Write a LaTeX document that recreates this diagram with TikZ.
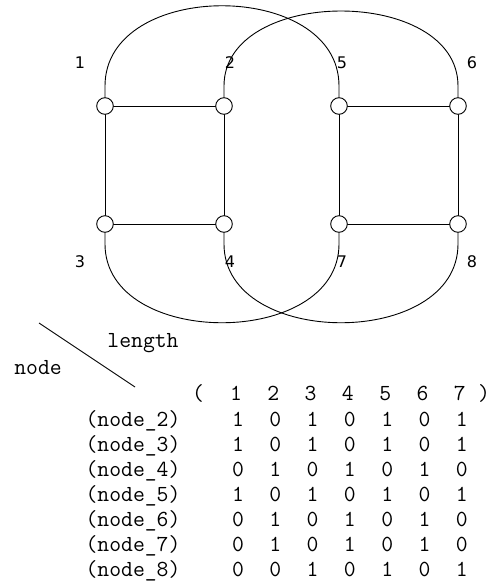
\documentclass[tikz,border=0pt]{standalone}
\usepackage{fontspec}
\newfontfamily\labf{DejaVu Sans}
\usetikzlibrary{calc}
\tikzset{
  vertex/.style={circle,draw,fill=white,inner sep=0pt,minimum size=16.6pt,line width=0.9pt},
  edge/.style={line width=0.9pt},
  vlabel/.style={font=\labf\fontsize{16}{16}\selectfont,inner sep=0pt},
  mono/.style={font=\ttfamily\fontsize{23}{23}\selectfont,inner sep=0pt,anchor=base},
}
\begin{document}
\begin{tikzpicture}[x=1pt,y=-1pt]
\useasboundingbox (0,0) rectangle (489,587);
% vertices
\coordinate (p1) at (105,106);
\coordinate (p2) at (224,106);
\coordinate (p5) at (339,106);
\coordinate (p6) at (458,106);
\coordinate (p3) at (105,224);
\coordinate (p4) at (224,224);
\coordinate (p7) at (339,224);
\coordinate (p8) at (458,224);
% square edges
\draw[edge] (p1) -- (p2) -- (p4) -- (p3) -- cycle;
\draw[edge] (p5) -- (p6) -- (p8) -- (p7) -- cycle;
% outer arcs
\draw[edge] ($(p1)+(0,-8)$) -- ++(0,-12) .. controls +(0,-107) and +(0,-107) .. ($(p5)+(0,-20)$) -- ($(p5)+(0,-8)$);
\draw[edge] ($(p2)+(0,-8)$) -- ++(0,-12) .. controls +(0,-100) and +(0,-100) .. ($(p6)+(0,-20)$) -- ($(p6)+(0,-8)$);
\draw[edge] ($(p3)+(0,8)$) -- ++(0,12) .. controls +(0,105) and +(0,105) .. ($(p7)+(0,20)$) -- ($(p7)+(0,8)$);
\draw[edge] ($(p4)+(0,8)$) -- ++(0,12) .. controls +(0,105) and +(0,105) .. ($(p8)+(0,20)$) -- ($(p8)+(0,8)$);
% vertex circles
\foreach \v in {1,...,8} \node[vertex] (n\v) at (p\v) {};
% vertex labels
\node[vlabel] (l1) at (80,63) {1};
\node[vlabel] (l2) at (230,63) {2};
\node[vlabel] (l5) at (342,63) {5};
\node[vlabel] (l6) at (472,63) {6};
\node[vlabel] (l3) at (80,262) {3};
\node[vlabel] (l4) at (230,262) {4};
\node[vlabel] (l7) at (342,262) {7};
\node[vlabel] (l8) at (472,262) {8};
% table corner
\coordinate (d1) at (39,323);
\coordinate (d2) at (135,387);
\draw[line width=0.9pt] (d1) -- (d2);
\node[mono] (hlen) at (143,347) {length};
\node[mono] (hnode) at (38,374) {node};
% column header
\node[mono] (hopen) at (198,400) {(};
\node[mono] (hclose) at (484,400) {)};
\foreach \c in {1,...,7} \node[mono] (h\c) at ({236+37.3*(\c-1)},400) {\c};
% rows
\foreach \r/\vals [count=\i] in {2/{1,0,1,0,1,0,1},3/{1,0,1,0,1,0,1},4/{0,1,0,1,0,1,0},5/{1,0,1,0,1,0,1},6/{0,1,0,1,0,1,0},7/{0,1,0,1,0,1,0},8/{0,0,1,0,1,0,1}}{
  \pgfmathsetmacro\yy{426+25.1*(\i-1)}
  \node[mono] (r\r) at (133,\yy) {(node\_\r)};
  \foreach \x [count=\c] in \vals
    \node[mono] (c\r-\c) at ({238+37.3*(\c-1)},\yy) {\x};
}
\end{tikzpicture}
\end{document}
